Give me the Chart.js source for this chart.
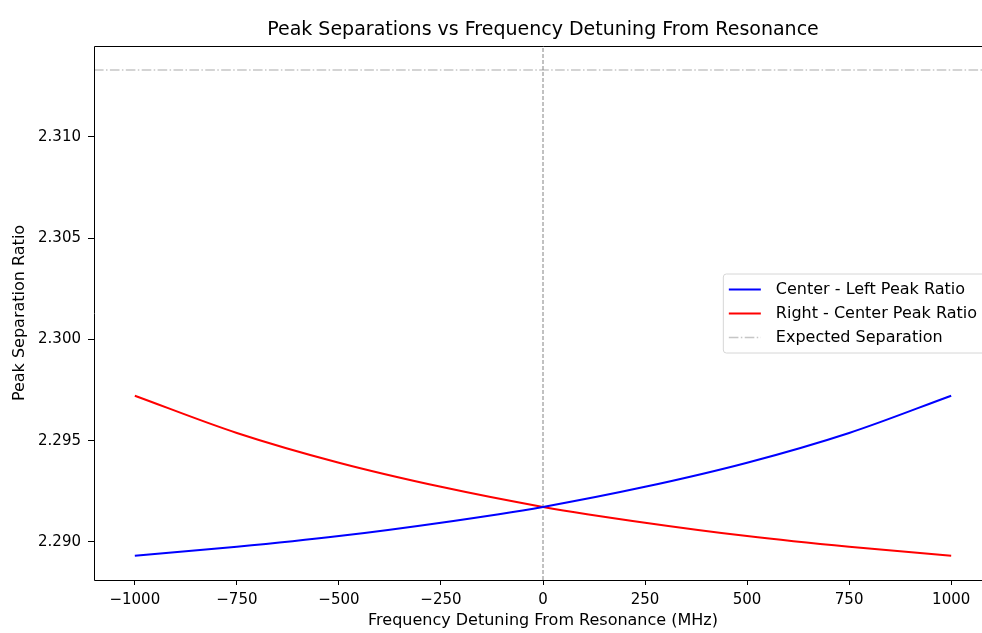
<!DOCTYPE html>
<html lang="en">
<head>
    <meta charset="UTF-8">
    <title>Peak Separations vs Frequency Detuning</title>
    <script src="https://cdn.jsdelivr.net/npm/chart.js@4.4.0/dist/chart.umd.min.js"></script>
    <style>
        html, body { margin: 0; padding: 0; background: #fff; overflow: hidden; }
        #wrap { width: 982px; height: 633px; overflow: hidden; }
    </style>
</head>
<body>
    <div id="wrap"><canvas id="peakChart" width="1000" height="633"></canvas></div>

    <script>
        // data
        const detuning = [-1000, -750, -500, -250, 0, 250, 500, 750, 1000];
        const centerLeftRatio = [2.28932, 2.28976, 2.29029, 2.29095, 2.29173, 2.29272, 2.29391, 2.29538, 2.29722];
        const rightCenterRatio = [2.29722, 2.29538, 2.29391, 2.29272, 2.29173, 2.29095, 2.29029, 2.28976, 2.28932];
        const expectedSeparation = 2.3133;
        const xRange = [-1100, 1100];
        const yRange = [2.28812, 2.31449];
        const xTicks = [-1000, -750, -500, -250, 0, 250, 500, 750, 1000];
        const yTicks = [2.290, 2.295, 2.300, 2.305, 2.310];

        const FONT = 'DejaVu Sans';

        // axes spines: top, left, bottom (right one falls outside the picture)
        const framePlugin = {
            id: 'frame',
            afterDatasetsDraw(chart) {
                const { ctx, chartArea: a } = chart;
                ctx.save();
                ctx.strokeStyle = '#000';
                ctx.lineWidth = 1;
                ctx.beginPath();
                ctx.moveTo(a.right, a.top + 0.5);
                ctx.lineTo(a.left + 0.5, a.top + 0.5);
                ctx.lineTo(a.left + 0.5, a.bottom + 0.5);
                ctx.lineTo(a.right, a.bottom + 0.5);
                ctx.stroke();
                ctx.restore();
            }
        };

        // matplotlib-like legend, "center right"
        const legendPlugin = {
            id: 'mplLegend',
            afterDraw(chart) {
                const { ctx, chartArea: a } = chart;
                const items = chart.data.datasets.filter(d => d.label);
                ctx.save();
                ctx.font = '16px "' + FONT + '"';
                const textW = Math.max(...items.map(d => ctx.measureText(d.label).width));
                const w = 6 + 32 + 15 + textW + 8;
                const h = 79;
                const right = a.right - 7;
                const left = right - w;
                const top = (a.top + a.bottom) / 2 - h / 2;
                ctx.beginPath();
                ctx.roundRect(left + 0.5, top + 0.5, w, h, 3);
                ctx.fillStyle = 'rgba(255,255,255,0.8)';
                ctx.fill();
                ctx.strokeStyle = '#d6d6d6';
                ctx.lineWidth = 1;
                ctx.stroke();
                items.forEach((d, i) => {
                    const y = top + 16 + i * 24;
                    ctx.beginPath();
                    ctx.setLineDash(d.borderDash || []);
                    ctx.strokeStyle = d.borderColor;
                    ctx.lineWidth = d.borderWidth;
                    ctx.moveTo(left + 6, y);
                    ctx.lineTo(left + 38, y);
                    ctx.stroke();
                    ctx.setLineDash([]);
                    ctx.fillStyle = '#000';
                    ctx.textBaseline = 'middle';
                    ctx.fillText(d.label, left + 53, y);
                });
                ctx.restore();
            }
        };

        const ctx = document.getElementById('peakChart').getContext('2d');
        const peakChart = new Chart(ctx, {
            type: 'line',
            data: {
                datasets: [
                    {
                        label: 'Center - Left Peak Ratio',
                        data: detuning.map((x, i) => ({ x: x, y: centerLeftRatio[i] })),
                        borderColor: '#0000ff',
                        borderWidth: 2,
                        pointRadius: 0,
                        cubicInterpolationMode: 'monotone'
                    },
                    {
                        label: 'Right - Center Peak Ratio',
                        data: detuning.map((x, i) => ({ x: x, y: rightCenterRatio[i] })),
                        borderColor: '#ff0000',
                        borderWidth: 2,
                        pointRadius: 0,
                        cubicInterpolationMode: 'monotone'
                    },
                    {
                        label: 'Expected Separation',
                        data: [{ x: xRange[0], y: expectedSeparation }, { x: xRange[1], y: expectedSeparation }],
                        borderColor: 'rgba(128,128,128,0.45)',
                        borderWidth: 1.5,
                        borderDash: [9.6, 2.4, 1.5, 2.4],
                        pointRadius: 0
                    },
                    {
                        // zero-detuning marker
                        data: [{ x: 0, y: yRange[0] }, { x: 0, y: yRange[1] }],
                        borderColor: 'rgba(110,110,110,0.85)',
                        borderWidth: 1,
                        borderDash: [4, 2],
                        pointRadius: 0
                    }
                ]
            },
            options: {
                responsive: false,
                animation: false,
                devicePixelRatio: 1,
                layout: { padding: { left: 0, right: 8, top: 0, bottom: 0 } },
                plugins: {
                    legend: { display: false },
                    tooltip: { enabled: false },
                    title: {
                        display: true,
                        fullSize: false,
                        text: 'Peak Separations vs Frequency Detuning From Resonance',
                        color: '#000',
                        font: { family: FONT, size: 19, weight: 'normal' },
                        padding: { top: 19, bottom: 4.2 }
                    }
                },
                scales: {
                    x: {
                        type: 'linear',
                        min: xRange[0],
                        max: xRange[1],
                        afterBuildTicks: axis => { axis.ticks = xTicks.map(v => ({ value: v })); },
                        afterFit: axis => { axis.height = 53; },
                        ticks: {
                            color: '#000',
                            font: { family: FONT, size: 15 },
                            padding: 6,
                            maxRotation: 0,
                            callback: v => String(v).replace('-', '\u2212')
                        },
                        grid: { drawOnChartArea: false, tickLength: 5, color: '#000' },
                        border: { display: false },
                        title: {
                            display: true,
                            text: 'Frequency Detuning From Resonance (MHz)',
                            color: '#000',
                            font: { family: FONT, size: 16 },
                            padding: { top: 0, bottom: 3 }
                        }
                    },
                    y: {
                        type: 'linear',
                        min: yRange[0],
                        max: yRange[1],
                        afterBuildTicks: axis => { axis.ticks = yTicks.map(v => ({ value: v })); },
                        afterFit: axis => { axis.width = 94; },
                        ticks: {
                            color: '#000',
                            font: { family: FONT, size: 15 },
                            padding: 7,
                            callback: v => v.toFixed(3)
                        },
                        grid: { drawOnChartArea: false, tickLength: 6, color: '#000' },
                        border: { display: false },
                        title: {
                            display: true,
                            text: 'Peak Separation Ratio',
                            color: '#000',
                            font: { family: FONT, size: 16 },
                            padding: { top: 10, bottom: 0 }
                        }
                    }
                }
            },
            plugins: [framePlugin, legendPlugin]
        });
    </script>
</body>
</html>
